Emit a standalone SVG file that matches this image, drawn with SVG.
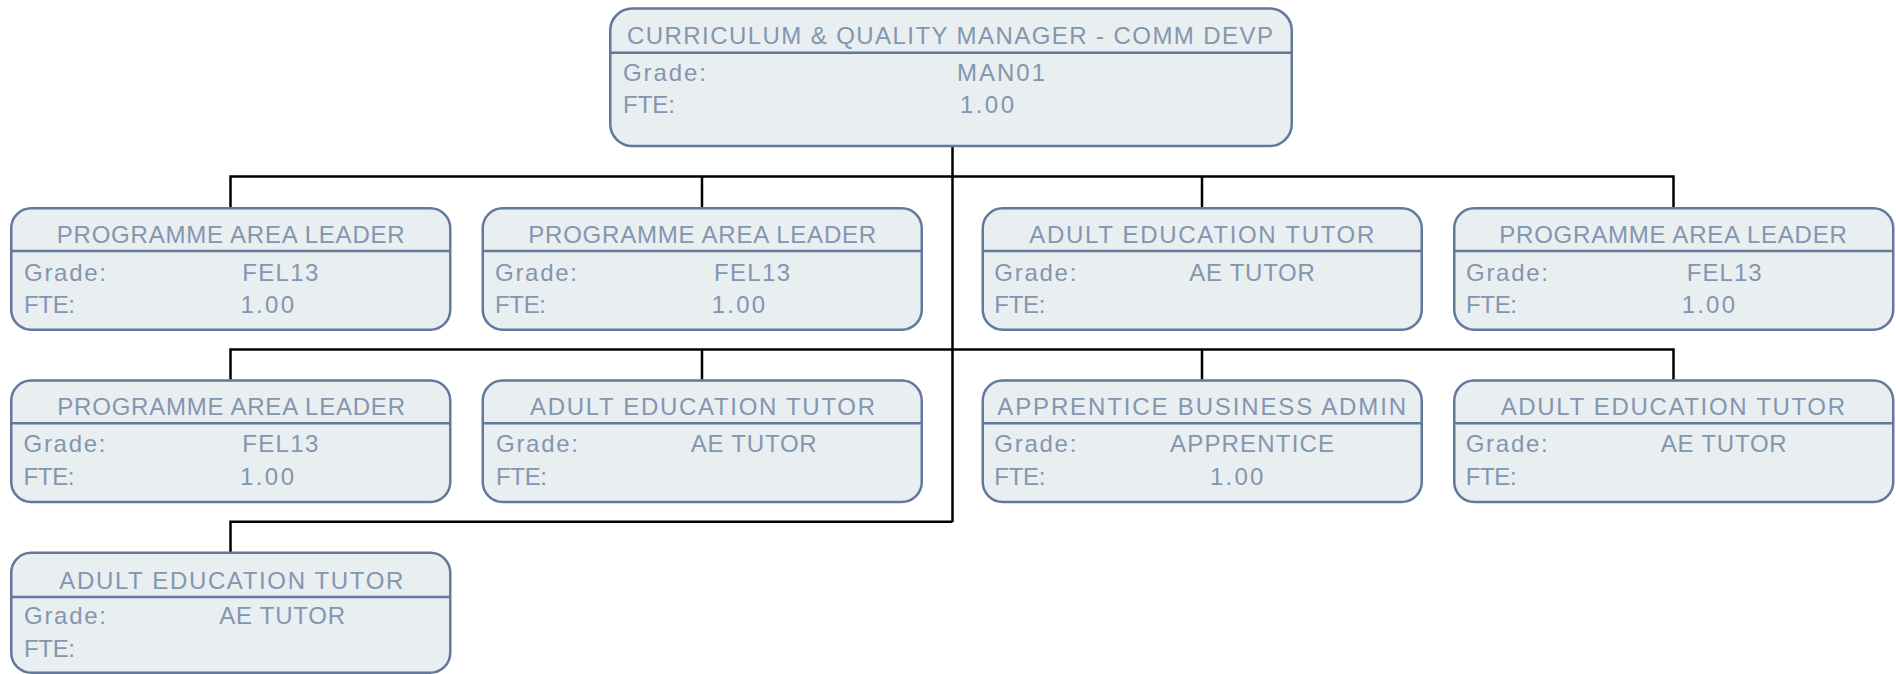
<svg xmlns="http://www.w3.org/2000/svg" width="1896" height="674" viewBox="0 0 1896 674">
<style>
.box{fill:#e9eef1;stroke:#62799b;stroke-width:2.5}
.div{stroke:#62799b;stroke-width:2.5}
.t{font-family:"Liberation Sans",Arial,sans-serif;font-size:24px;fill:#8396b0}
.c{fill:none;stroke:#000;stroke-width:2.5}
</style>
<rect width="1896" height="674" fill="#fff"/>
<g id="connectors">
<path class="c" d="M952.5 146V522"/>
<path class="c" d="M230.5 207V176.5H1673.5V207M702 176.5V207M1202 176.5V207"/>
<path class="c" d="M230.5 379.5V349.5H1673.5V379.5M702 349.5V379.5M1202 349.5V379.5"/>
<path class="c" d="M230.5 552V521.7H952.5"/>
</g>
<g id="top" transform="translate(609,7.3)">
<rect class="box" x="1.25" y="1.25" width="681.5" height="137.5" rx="22"/>
<line class="div" x1="1.25" y1="45.4" x2="682.75" y2="45.4"/>
<text class="t" x="18" y="36.7" textLength="646" lengthAdjust="spacing">CURRICULUM &amp; QUALITY MANAGER - COMM DEVP</text>
<text class="t" x="14" y="73.7" textLength="83" lengthAdjust="spacing">Grade:</text>
<text class="t" x="348" y="73.7" textLength="88" lengthAdjust="spacing">MAN01</text>
<text class="t" x="14" y="105.7" textLength="52" lengthAdjust="spacing">FTE:</text>
<text class="t" x="351" y="105.7" textLength="54" lengthAdjust="spacing">1.00</text>
</g>
<g id="n1" transform="translate(10,207)">
<rect class="box" x="1.25" y="1.25" width="439" height="121.5" rx="20"/>
<line class="div" x1="1.25" y1="44" x2="440.25" y2="44"/>
<text class="t" x="46.7" y="36.4" textLength="348" lengthAdjust="spacing">PROGRAMME AREA LEADER</text>
<text class="t" x="14" y="73.5" textLength="82" lengthAdjust="spacing">Grade:</text>
<text class="t" x="232.3" y="73.5" textLength="76" lengthAdjust="spacing">FEL13</text>
<text class="t" x="14" y="106" textLength="51" lengthAdjust="spacing">FTE:</text>
<text class="t" x="230.5" y="106" textLength="53.5" lengthAdjust="spacing">1.00</text>
</g>
<g id="n2" transform="translate(481.5,207)">
<rect class="box" x="1.25" y="1.25" width="439" height="121.5" rx="20"/>
<line class="div" x1="1.25" y1="44" x2="440.25" y2="44"/>
<text class="t" x="46.7" y="36.4" textLength="348" lengthAdjust="spacing">PROGRAMME AREA LEADER</text>
<text class="t" x="13.5" y="73.5" textLength="82" lengthAdjust="spacing">Grade:</text>
<text class="t" x="232.5" y="73.5" textLength="76" lengthAdjust="spacing">FEL13</text>
<text class="t" x="13.5" y="106" textLength="51" lengthAdjust="spacing">FTE:</text>
<text class="t" x="230.2" y="106" textLength="53.5" lengthAdjust="spacing">1.00</text>
</g>
<g id="n3" transform="translate(981.5,207)">
<rect class="box" x="1.25" y="1.25" width="439" height="121.5" rx="20"/>
<line class="div" x1="1.25" y1="44" x2="440.25" y2="44"/>
<text class="t" x="47.8" y="36.4" textLength="345" lengthAdjust="spacing">ADULT EDUCATION TUTOR</text>
<text class="t" x="12.8" y="73.5" textLength="82" lengthAdjust="spacing">Grade:</text>
<text class="t" x="207.8" y="73.5" textLength="125.5" lengthAdjust="spacing">AE TUTOR</text>
<text class="t" x="12.8" y="106" textLength="51" lengthAdjust="spacing">FTE:</text>
</g>
<g id="n4" transform="translate(1453,207)">
<rect class="box" x="1.25" y="1.25" width="439" height="121.5" rx="20"/>
<line class="div" x1="1.25" y1="44" x2="440.25" y2="44"/>
<text class="t" x="46.3" y="36.4" textLength="347.5" lengthAdjust="spacing">PROGRAMME AREA LEADER</text>
<text class="t" x="13" y="73.5" textLength="82" lengthAdjust="spacing">Grade:</text>
<text class="t" x="233.7" y="73.5" textLength="75" lengthAdjust="spacing">FEL13</text>
<text class="t" x="13" y="106" textLength="51" lengthAdjust="spacing">FTE:</text>
<text class="t" x="228.7" y="106" textLength="53.3" lengthAdjust="spacing">1.00</text>
</g>
<g id="n5" transform="translate(10,379.3)">
<rect class="box" x="1.25" y="1.25" width="439" height="121.5" rx="20"/>
<line class="div" x1="1.25" y1="44" x2="440.25" y2="44"/>
<text class="t" x="47.3" y="35.7" textLength="347.7" lengthAdjust="spacing">PROGRAMME AREA LEADER</text>
<text class="t" x="13.5" y="72.4" textLength="82" lengthAdjust="spacing">Grade:</text>
<text class="t" x="232.3" y="72.4" textLength="76" lengthAdjust="spacing">FEL13</text>
<text class="t" x="13.5" y="105.7" textLength="51" lengthAdjust="spacing">FTE:</text>
<text class="t" x="230" y="105.7" textLength="54" lengthAdjust="spacing">1.00</text>
</g>
<g id="n6" transform="translate(481.5,379.3)">
<rect class="box" x="1.25" y="1.25" width="439" height="121.5" rx="20"/>
<line class="div" x1="1.25" y1="44" x2="440.25" y2="44"/>
<text class="t" x="48.5" y="35.7" textLength="345" lengthAdjust="spacing">ADULT EDUCATION TUTOR</text>
<text class="t" x="14.5" y="72.4" textLength="82" lengthAdjust="spacing">Grade:</text>
<text class="t" x="209.2" y="72.4" textLength="126" lengthAdjust="spacing">AE TUTOR</text>
<text class="t" x="14.5" y="105.7" textLength="51" lengthAdjust="spacing">FTE:</text>
</g>
<g id="n7" transform="translate(981.5,379.3)">
<rect class="box" x="1.25" y="1.25" width="439" height="121.5" rx="20"/>
<line class="div" x1="1.25" y1="44" x2="440.25" y2="44"/>
<text class="t" x="15.8" y="35.7" textLength="408.7" lengthAdjust="spacing">APPRENTICE BUSINESS ADMIN</text>
<text class="t" x="12.8" y="72.4" textLength="82" lengthAdjust="spacing">Grade:</text>
<text class="t" x="188.5" y="72.4" textLength="164" lengthAdjust="spacing">APPRENTICE</text>
<text class="t" x="12.8" y="105.7" textLength="51" lengthAdjust="spacing">FTE:</text>
<text class="t" x="228.5" y="105.7" textLength="53.3" lengthAdjust="spacing">1.00</text>
</g>
<g id="n8" transform="translate(1453,379.3)">
<rect class="box" x="1.25" y="1.25" width="439" height="121.5" rx="20"/>
<line class="div" x1="1.25" y1="44" x2="440.25" y2="44"/>
<text class="t" x="47.7" y="35.7" textLength="344.3" lengthAdjust="spacing">ADULT EDUCATION TUTOR</text>
<text class="t" x="12.7" y="72.4" textLength="82" lengthAdjust="spacing">Grade:</text>
<text class="t" x="207.7" y="72.4" textLength="126" lengthAdjust="spacing">AE TUTOR</text>
<text class="t" x="12.7" y="105.7" textLength="51" lengthAdjust="spacing">FTE:</text>
</g>
<g id="n9" transform="translate(10,551.5)">
<rect class="box" x="1.25" y="1.25" width="439" height="120" rx="20"/>
<line class="div" x1="1.25" y1="45.5" x2="440.25" y2="45.5"/>
<text class="t" x="49.3" y="37.5" textLength="344" lengthAdjust="spacing">ADULT EDUCATION TUTOR</text>
<text class="t" x="14" y="72.5" textLength="82" lengthAdjust="spacing">Grade:</text>
<text class="t" x="209.3" y="72.5" textLength="125.7" lengthAdjust="spacing">AE TUTOR</text>
<text class="t" x="14" y="105" textLength="51" lengthAdjust="spacing">FTE:</text>
</g>
</svg>
